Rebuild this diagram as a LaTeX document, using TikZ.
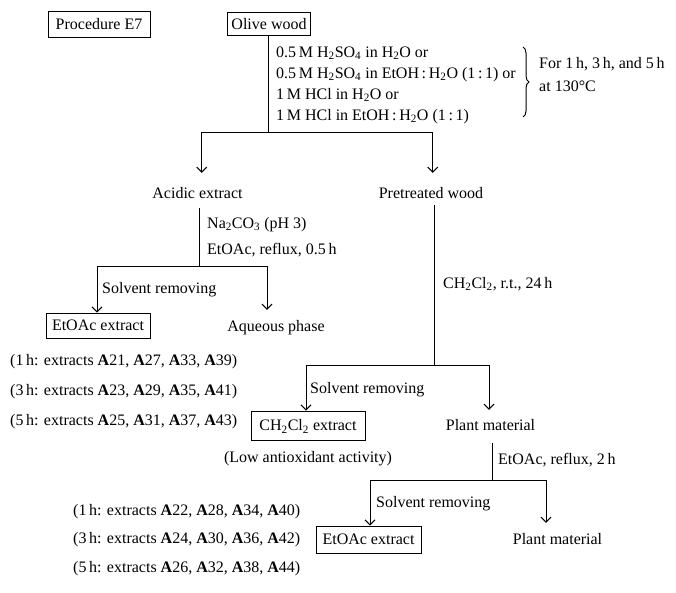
\documentclass[tikz,border=0pt]{standalone}
\usepackage{fontspec}
\setmainfont{Liberation Serif}
\usetikzlibrary{arrows.meta,decorations.pathreplacing}
\newcommand{\sbs}[1]{\textsubscript{#1}}
\begin{document}
\begin{tikzpicture}[x=1pt,y=-1pt, font=\fontsize{16}{19}\selectfont,
  txt/.style={inner sep=0pt, text height=10.6pt, text depth=0pt},
  lt/.style={txt, anchor=west},
  box/.style={draw, line width=1pt, inner sep=0pt, text height=10.6pt, text depth=0pt},
  ln/.style={line width=1pt},
  arr/.style={ln, -{Straight Barb[length=5pt,width=10pt]}}]
\useasboundingbox (0,0) rectangle (676,592);

% top
\node[box, minimum width=102pt, minimum height=26pt] (proc) at (99,24) {Procedure E7};
\node[box, minimum width=83pt, minimum height=23pt] (olive) at (269,24) {Olive wood};
\node[lt] (l1) at (276,52) {0.5\,M H\sbs{2}SO\sbs{4} in H\sbs{2}O or};
\node[lt] (l2) at (276,73) {0.5\,M H\sbs{2}SO\sbs{4} in EtOH\,:\,H\sbs{2}O (1\,:\,1) or};
\node[lt] (l3) at (276,94) {1\,M HCl in H\sbs{2}O or};
\node[lt] (l4) at (276,115) {1\,M HCl in EtOH\,:\,H\sbs{2}O (1\,:\,1)};
\coordinate (br1) at (523,47);
\coordinate (br2) at (523,117);
\draw[ln, decorate, decoration={brace, amplitude=6pt}] (br1) -- (br2);
\node[lt] (for) at (539,63) {For 1\,h, 3\,h, and 5\,h};
\node[lt] (at) at (539,86) {at 130°C};

\coordinate (j1) at (268,132);
\coordinate (c1l) at (201.7,132);
\coordinate (c1r) at (432.7,132);
\draw[ln] (olive.south -| j1) -- (j1);
\draw[ln] (c1l) -- (c1r);
\node[txt] (acid) at (197.5,193) {Acidic extract};
\node[txt] (pre) at (431,193) {Pretreated wood};
\draw[arr, shorten >=14.7pt] (c1l) -- (c1l |- acid.north);
\draw[arr, shorten >=14.7pt] (c1r) -- (c1r |- pre.north);

% left branch
\coordinate (j2) at (199,266);
\coordinate (c2l) at (97,266);
\coordinate (c2r) at (267,266);
\draw[ln, shorten <=9.7pt] (acid.south -| j2) -- (j2);
\node[lt] (na) at (207,223) {Na\sbs{2}CO\sbs{3} (pH 3)};
\node[lt] (eto1) at (207,249) {EtOAc, reflux, 0.5\,h};
\draw[ln] (c2l) -- (c2r);
\node[box, minimum width=104pt, minimum height=25pt] (ex1) at (98,325.5) {EtOAc extract};
\node[txt] (aq) at (276,326) {Aqueous phase};
\draw[arr] (c2l) -- (c2l |- ex1.north);
\draw[arr, shorten >=10.7pt] (c2r) -- (c2r |- aq.north);
\node[lt] (sr1) at (102,288) {Solvent removing};
\node[lt] (e1) at (10,360) {(1\,h: extracts \textbf{A}21, \textbf{A}27, \textbf{A}33, \textbf{A}39)};
\node[lt] (e3) at (10,390) {(3\,h: extracts \textbf{A}23, \textbf{A}29, \textbf{A}35, \textbf{A}41)};
\node[lt] (e5) at (10,420) {(5\,h: extracts \textbf{A}25, \textbf{A}31, \textbf{A}37, \textbf{A}43)};

% right branch
\coordinate (j3) at (434,365);
\coordinate (c3l) at (306,365);
\coordinate (c3r) at (489,365);
\draw[ln, shorten <=6.7pt] (pre.south -| j3) -- (j3);
\node[lt] (ch) at (443,283) {CH\sbs{2}Cl\sbs{2}, r.t., 24\,h};
\draw[ln] (c3l) -- (c3r);
\node[box, minimum width=114pt, minimum height=29pt] (ex2) at (308,425.5) {CH\sbs{2}Cl\sbs{2} extract};
\node[txt] (pm1) at (490.5,425) {Plant material};
\draw[arr] (c3l) -- (c3l |- ex2.north);
\draw[arr, shorten >=9.7pt] (c3r) -- (c3r |- pm1.north);
\node[lt] (sr2) at (310,388) {Solvent removing};
\node[txt] (low) at (308,457) {(Low antioxidant activity)};

\coordinate (j4) at (492,480);
\coordinate (c4l) at (370,480);
\coordinate (c4r) at (546,480);
\draw[ln, shorten <=12.7pt] (pm1.south -| j4) -- (j4);
\node[lt] (eto2) at (498,459) {EtOAc, reflux, 2\,h};
\draw[ln] (c4l) -- (c4r);
\node[box, minimum width=105pt, minimum height=27pt] (ex3) at (368.5,539.5) {EtOAc extract};
\node[txt] (pm2) at (557.5,539) {Plant material};
\draw[arr] (c4l) -- (c4l |- ex3.north);
\draw[arr, shorten >=10.7pt] (c4r) -- (c4r |- pm2.north);
\node[lt] (sr3) at (376,502) {Solvent removing};
\node[lt] (f1) at (73,510) {(1\,h: extracts \textbf{A}22, \textbf{A}28, \textbf{A}34, \textbf{A}40)};
\node[lt] (f3) at (73,538) {(3\,h: extracts \textbf{A}24, \textbf{A}30, \textbf{A}36, \textbf{A}42)};
\node[lt] (f5) at (73,567) {(5\,h: extracts \textbf{A}26, \textbf{A}32, \textbf{A}38, \textbf{A}44)};
\end{tikzpicture}
\end{document}
